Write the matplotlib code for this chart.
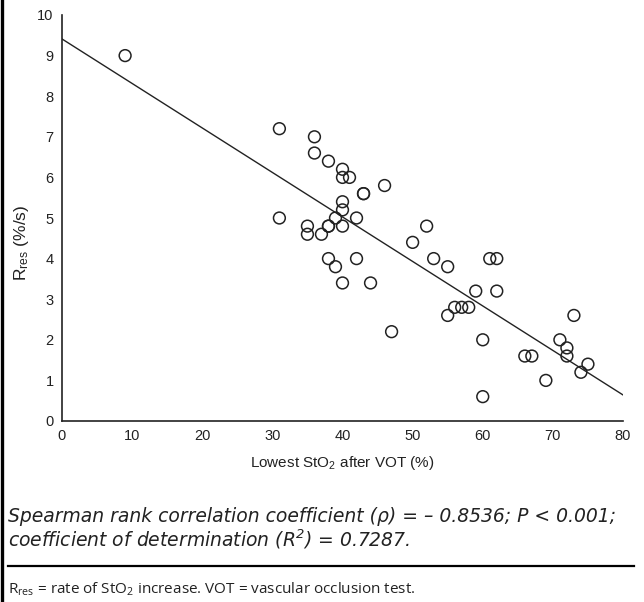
import numpy as np
import matplotlib
matplotlib.use("Agg")
import matplotlib.pyplot as plt
from matplotlib.lines import Line2D

plt.rcParams['font.family'] = ['Liberation Sans', 'DejaVu Sans']
plt.rcParams['mathtext.default'] = 'regular'

# lowest StO2 after VOT (%) and Rres (%/s)
stO2 = [9, 31, 31, 35, 35, 36, 36, 37, 38, 38, 38, 38, 39, 39,
        40, 40, 41, 40, 40, 40, 40, 42, 42, 43, 43, 44, 46, 47,
        50, 52, 53, 55, 55, 56, 57, 58, 59, 60, 60, 61, 62, 62,
        66, 67, 69, 71, 72, 72, 73, 74, 75]
rres = [9.0, 7.2, 5.0, 4.8, 4.6, 7.0, 6.6, 4.6, 6.4, 4.8, 4.8, 4.0, 3.8, 5.0,
        6.2, 6.0, 6.0, 5.4, 5.2, 4.8, 3.4, 5.0, 4.0, 5.6, 5.6, 3.4, 5.8, 2.2,
        4.4, 4.8, 4.0, 3.8, 2.6, 2.8, 2.8, 2.8, 3.2, 2.0, 0.6, 4.0, 4.0, 3.2,
        1.6, 1.6, 1.0, 2.0, 1.8, 1.6, 2.6, 1.2, 1.4]

# regression line as drawn
intercept = 9.41
slope = -0.1096

xticks = [0, 10, 20, 30, 40, 50, 60, 70, 80]
yticks = [0, 1, 2, 3, 4, 5, 6, 7, 8, 9, 10]

fig = plt.figure(figsize=(6.44, 6.02), dpi=100)
ax = fig.add_axes([62/644, 1-421/602, 561/644, 406/602])

ax.scatter(stO2, rres, s=72, facecolors='none', edgecolors='#222222',
           linewidths=1.1, zorder=3)
xl = np.array([0, 80])
ax.plot(xl, intercept + slope*xl, color='#222222', lw=1.0)

ax.set_xlim(0, 80)
ax.set_ylim(0, 10)
ax.set_xticks(xticks)
ax.set_yticks(yticks)
ax.tick_params(length=0, labelsize=10.5, colors='#222222', pad=6)
for s in ['top', 'right']:
    ax.spines[s].set_visible(False)
for s in ['left', 'bottom']:
    ax.spines[s].set_color('#222222')
    ax.spines[s].set_linewidth(1.2)

ax.set_xlabel('Lowest StO$_2$ after VOT (%)', fontsize=11, color='#222222', labelpad=8)
ax.set_ylabel('R$_{res}$ (%/s)', fontsize=12.5, color='#222222')
ax.yaxis.set_label_coords(-0.056, 0.44)

cap = ['DejaVu Sans']
fig.text(8/644, 1-516/602, 'Spearman rank correlation coefficient (ρ) = – 0.8536; P < 0.001;',
         fontsize=13.5, style='italic', family=cap, va='center', ha='left', color='#222222')
fig.text(8/644, 1-539/602, 'coefficient of determination (R$^2$) = 0.7287.',
         fontsize=13.5, style='italic', family=cap, va='center', ha='left', color='#222222')
fig.text(8/644, 1-589/602, 'R$_{res}$ = rate of StO$_2$ increase. VOT = vascular occlusion test.',
         fontsize=11, family=['Open Sans', 'DejaVu Sans'], va='center', ha='left', color='#222222')

fig.add_artist(Line2D([8/644, 634/644], [1-566/602, 1-566/602], color='black', lw=1.6))
fig.add_artist(Line2D([2/644, 2/644], [0, 1], color='black', lw=2.4))

fig.savefig('out.png', dpi=100)
